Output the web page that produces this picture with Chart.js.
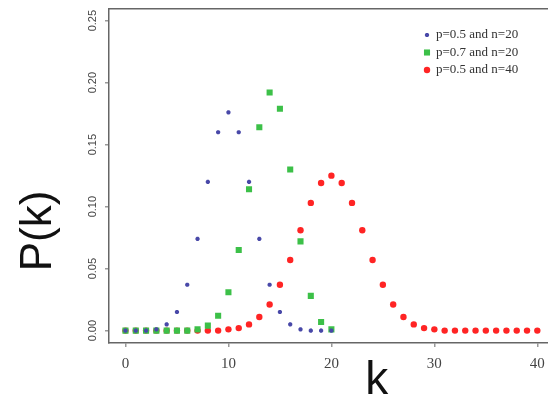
<!DOCTYPE html>
<html>
<head>
<meta charset="utf-8">
<script src="https://cdn.jsdelivr.net/npm/chart.js@4.4.0/dist/chart.umd.min.js"></script>
<style>
  html, body { margin: 0; padding: 0; overflow: hidden; background: #fff; }
  #wrap { width: 548px; height: 397px; overflow: hidden; }
</style>
</head>
<body>
<div id="wrap"><canvas id="binom" width="650" height="397"></canvas></div>
<script>
// k values
var k20 = [0, 1, 2, 3, 4, 5, 6, 7, 8, 9, 10, 11, 12, 13, 14, 15, 16, 17, 18, 19, 20];
var k40 = [0, 1, 2, 3, 4, 5, 6, 7, 8, 9, 10, 11, 12, 13, 14, 15, 16, 17, 18, 19, 20,
           21, 22, 23, 24, 25, 26, 27, 28, 29, 30, 31, 32, 33, 34, 35, 36, 37, 38, 39, 40];

// P(k)
var pHalfN20 = [0.000, 0.000, 0.000, 0.001, 0.005, 0.015, 0.037, 0.074, 0.120, 0.160, 0.176,
                0.160, 0.120, 0.074, 0.037, 0.015, 0.005, 0.001, 0.000, 0.000, 0.000];
var p07N20 = [0.000, 0.000, 0.000, 0.000, 0.000, 0.000, 0.000, 0.001, 0.004, 0.012, 0.031,
              0.065, 0.114, 0.164, 0.192, 0.179, 0.130, 0.072, 0.028, 0.007, 0.001];
var pHalfN40 = [0.000, 0.000, 0.000, 0.000, 0.000, 0.000, 0.000, 0.000, 0.000, 0.000, 0.001,
                0.002, 0.005, 0.011, 0.021, 0.037, 0.057, 0.081, 0.103, 0.119, 0.125,
                0.119, 0.103, 0.081, 0.057, 0.037, 0.021, 0.011, 0.005, 0.002, 0.001,
                0.000, 0.000, 0.000, 0.000, 0.000, 0.000, 0.000, 0.000, 0.000, 0.000];

var seriesLabels = ['p=0.5 and n=20', 'p=0.7 and n=20', 'p=0.5 and n=40'];
var xTicks = [0, 10, 20, 30, 40];
var yTicks = [0, 0.05, 0.10, 0.15, 0.20, 0.25];

function pts(xs, ys) {
  return xs.map(function (x, i) { return { x: x, y: ys[i] }; });
}

var axisColor = '#666';
var tickColor = '#999';

// legend drawn inside the plot, top right
var innerLegend = {
  id: 'innerLegend',
  afterDraw: function (chart) {
    var ctx = chart.ctx;
    ctx.save();
    ctx.font = '13px "Liberation Serif", serif';
    ctx.textBaseline = 'middle';
    chart.data.datasets.forEach(function (ds, i) {
      var y = 35 + i * 17.5;
      ctx.fillStyle = ds.backgroundColor;
      ctx.strokeStyle = ds.borderColor;
      ctx.lineWidth = ds.borderWidth;
      Chart.helpers.drawPoint(ctx, {
        pointStyle: ds.pointStyle, radius: ds.pointRadius,
        borderWidth: ds.borderWidth, rotation: 0
      }, 427, y);
      ctx.fillStyle = '#333';
      ctx.fillText(ds.label, 436, y);
    });
    ctx.restore();
  }
};

// fixed axis sizes so the plot box lands where the original has it
function fixSize(w, h) {
  return function (s) {
    if (w !== null) s.width = w;
    if (h !== null) s.height = h;
    s.paddingTop = 0; s.paddingBottom = 0;
    s.paddingLeft = 0; s.paddingRight = 0;
  };
}

var ctx = document.getElementById('binom').getContext('2d');

var chart = new Chart(ctx, {
  type: 'scatter',
  data: {
    datasets: [{
      label: seriesLabels[0],
      data: pts(k20, pHalfN20),
      pointStyle: 'star',
      pointRadius: 2.1,
      borderWidth: 1.6,
      borderColor: '#4848a8',
      backgroundColor: '#4848a8'
    }, {
      label: seriesLabels[1],
      data: pts(k20, p07N20),
      pointStyle: 'rect',
      pointRadius: 4.3,
      borderWidth: 0,
      borderColor: '#3cc048',
      backgroundColor: '#3cc048'
    }, {
      label: seriesLabels[2],
      data: pts(k40, pHalfN40),
      pointStyle: 'circle',
      pointRadius: 3.2,
      borderWidth: 0,
      borderColor: '#ff2424',
      backgroundColor: '#ff2424'
    }]
  },
  options: {
    responsive: false,
    animation: false,
    events: [],
    layout: { padding: { left: 0, top: 9, right: 3, bottom: 0 } },
    plugins: {
      legend: { display: false },
      tooltip: { enabled: false }
    },
    scales: {
      x: {
        type: 'linear',
        min: -1.6,
        max: 50.4,
        afterBuildTicks: function (s) { s.ticks = xTicks.map(function (v) { return { value: v }; }); },
        afterFit: fixSize(null, 54),
        grid: { drawOnChartArea: false, drawTicks: true, tickLength: 4, color: tickColor, lineWidth: 1.5 },
        border: { display: true, color: axisColor, width: 1.5 },
        ticks: {
          autoSkip: false, maxRotation: 0, padding: 8, color: '#444',
          font: { family: '"Liberation Serif", serif', size: 15 }
        },
        title: {
          display: true, text: 'k', color: '#111',
          font: { family: '"Liberation Sans", Arial, sans-serif', size: 46, lineHeight: 1 },
          padding: { top: 0, bottom: -7 }
        }
      },
      x2: {
        type: 'linear',
        position: 'top',
        min: -1.6,
        max: 50.4,
        afterFit: fixSize(null, 0),
        ticks: { display: false },
        grid: { display: false },
        border: { display: true, color: axisColor, width: 1.5 }
      },
      y: {
        type: 'linear',
        min: -0.01,
        max: 0.2594,
        afterBuildTicks: function (s) { s.ticks = yTicks.map(function (v) { return { value: v }; }); },
        afterFit: fixSize(109, null),
        grid: { drawOnChartArea: false, drawTicks: true, tickLength: 4, color: tickColor, lineWidth: 1.5 },
        border: { display: true, color: axisColor, width: 1.5 },
        ticks: {
          autoSkip: false, minRotation: 90, maxRotation: 90, padding: 1,
          crossAlign: 'center', color: '#444',
          font: { family: '"Liberation Sans", sans-serif', size: 11 },
          callback: function (v) { return v.toFixed(2); }
        },
        title: {
          display: true, text: 'P(k)\u00a0\u00a0\u00a0\u00a0\u00a0\u00a0\u00a0\u00a0\u00a0', color: '#111',
          font: { family: '"Liberation Sans", Arial, sans-serif', size: 44, lineHeight: 1 },
          padding: { top: 17, bottom: 0 }
        }
      }
    }
  },
  plugins: [innerLegend]
});
</script>
</body>
</html>
